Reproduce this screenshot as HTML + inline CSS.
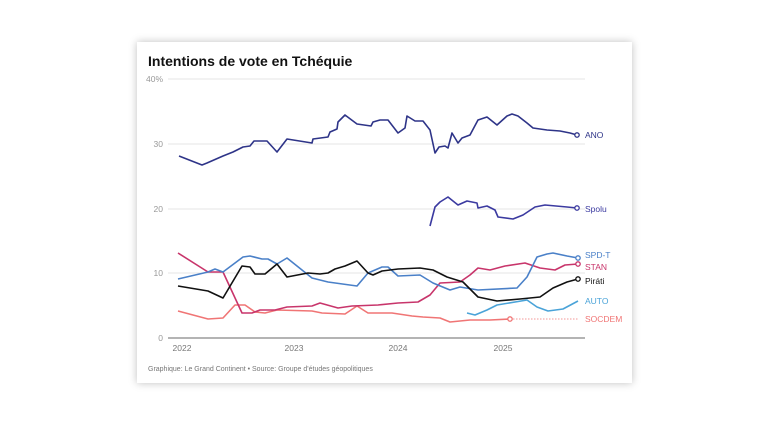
<!DOCTYPE html>
<html><head><meta charset="utf-8"><style>
body{margin:0;background:#fff;width:768px;height:427px;overflow:hidden;font-family:"Liberation Sans",sans-serif}
.card{position:absolute;left:137px;top:42px;width:495px;height:341px;background:#fff;box-shadow:0 0 8px rgba(0,0,0,0.25)}
</style></head><body>
<div class="card"></div>
<svg width="768" height="427" style="position:absolute;left:0;top:0" font-family="Liberation Sans, sans-serif">
<text x="148" y="66" font-size="14" font-weight="bold" fill="#111">Intentions de vote en Tchéquie</text>
<g stroke="#e6e6e6" stroke-width="1">
<line x1="168" y1="79" x2="585" y2="79"/><line x1="168" y1="144" x2="585" y2="144"/>
<line x1="168" y1="209" x2="585" y2="209"/><line x1="168" y1="273" x2="585" y2="273"/>
</g>
<line x1="168" y1="338" x2="585" y2="338" stroke="#888" stroke-width="1.2"/>
<g font-size="8.5" fill="#999" text-anchor="end">
<text x="163" y="82">40%</text><text x="163" y="147">30</text><text x="163" y="212">20</text><text x="163" y="276">10</text><text x="163" y="341">0</text>
</g>
<g font-size="8.5" fill="#777" text-anchor="middle">
<text x="182" y="351">2022</text><text x="294" y="351">2023</text><text x="398" y="351">2024</text><text x="503" y="351">2025</text>
</g>
<g fill="none" stroke-width="1.6" stroke-linejoin="round">
<polyline stroke="#f07575" points="178,311 208,319 223,318 235,305 245,305 255,312 265,313 277,310 312,311 322,313 345,314 357,306 368,313 392,313 412,316 423,317 440,318 450,322 470,320 490,320 510,319"/>
<line x1="510" y1="319" x2="578" y2="319" stroke="#f07575" stroke-width="0.8" stroke-dasharray="1.5,1.5"/>
<polyline stroke="#4aa3d8" points="467,313 475,315 487,310 497,305 527,300 537,307 548,311 563,309 578,301"/>
<polyline stroke="#c8356b" points="178,253 208,272 223,272 242,313 252,313 260,310 275,310 287,307 312,306 320,303 338,308 352,306 378,305 398,303 418,302 430,295 440,283 460,282 470,275 478,268 490,270 505,266 525,263 540,268 555,270 565,265 578,264"/>
<polyline stroke="#4a80c8" points="178,279 208,272 215,269 223,272 243,257 250,256 262,259 268,259 277,264 287,258 312,278 328,282 357,286 368,273 382,267 388,267 398,276 420,275 433,283 450,290 460,287 478,290 517,288 527,277 537,257 547,254 553,253 567,256 578,258"/>
<polyline stroke="#111" points="178,286 208,291 223,298 242,266 250,267 255,274 265,274 277,264 287,277 308,273 320,274 328,273 335,269 345,266 357,261 368,273 373,275 382,271 398,269 420,268 433,270 447,277 463,282 478,297 497,301 520,299 540,297 553,288 567,282 578,279"/>
<polyline stroke="#2e3488" points="179,156 202,165 207,163 223,156 233,152 243,147 250,146 254,141 267,141 277,152 287,139 312,143 313,139 328,137 330,132 337,129 338,122 345,115 357,124 371,126 373,122 380,120 388,120 398,133 405,128 407,116 415,121 423,121 430,130 435,153 439,147 445,146 448,148 452,133 458,143 462,138 470,135 478,120 487,117 497,125 507,116 512,114 518,116 527,123 533,128 547,130 560,131 570,133 577,135"/>
<polyline stroke="#3b3aa0" points="430,226 435,207 440,202 448,197 458,205 467,201 477,203 478,208 487,206 495,210 498,217 513,219 523,215 535,207 545,205 567,207 577,208"/>
</g>
<g fill="#fff" stroke-width="1.3">
<circle cx="577" cy="135" r="2.2" stroke="#2e3488"/><circle cx="577" cy="208" r="2.2" stroke="#3b3aa0"/>
<circle cx="578" cy="258" r="2.2" stroke="#4a80c8"/><circle cx="578" cy="264" r="2.2" stroke="#c8356b"/>
<circle cx="578" cy="279" r="2.2" stroke="#111"/><circle cx="510" cy="319" r="2.2" stroke="#f07575"/>
</g>
<g font-size="8.5">
<text x="585" y="138" fill="#2e3488">ANO</text><text x="585" y="212" fill="#3b3aa0">Spolu</text>
<text x="585" y="258" fill="#4a80c8">SPD-T</text><text x="585" y="270" fill="#c8356b">STAN</text>
<text x="585" y="284" fill="#111">Piráti</text><text x="585" y="304" fill="#4aa3d8">AUTO</text>
<text x="585" y="322" fill="#f07575">SOCDEM</text>
</g>
<text x="148" y="371" font-size="7" fill="#777">Graphique: Le Grand Continent • Source: Groupe d'études géopolitiques</text>
</svg>
</body></html>
